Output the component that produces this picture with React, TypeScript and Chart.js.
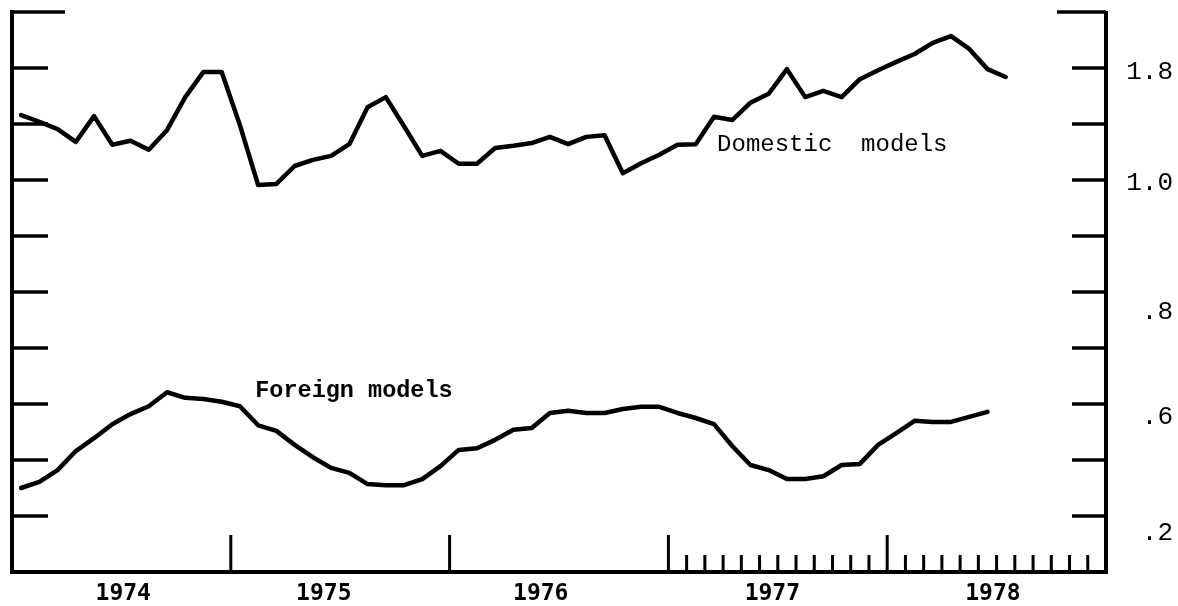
import React, { useEffect, useRef } from "react";
import { Chart, registerables } from "chart.js";

Chart.register(...registerables);

// Monthly index ratios, Jan 1974 = month 0 (plotted at mid-month)
const DOMESTIC = [
  1.116, 1.104, 1.091, 1.068, 1.114, 1.063, 1.07, 1.054, 1.089, 1.148, 1.193, 1.193,
  1.098, 0.991, 0.993, 1.025, 1.036, 1.043, 1.064, 1.13, 1.148, 1.096, 1.043, 1.052,
  1.029, 1.029, 1.057, 1.061, 1.066, 1.077, 1.064, 1.077, 1.08, 1.012, 1.03, 1.045,
  1.063, 1.064, 1.113, 1.107, 1.138, 1.154, 1.198, 1.148, 1.159, 1.148, 1.18, 1.196,
  1.211, 1.225, 1.245, 1.257, 1.234, 1.198, 1.184,
];
const FOREIGN = [
  0.45, 0.461, 0.482, 0.516, 0.539, 0.564, 0.582, 0.596, 0.621, 0.611, 0.609, 0.604,
  0.596, 0.562, 0.552, 0.527, 0.505, 0.486, 0.477, 0.457, 0.455, 0.455, 0.466, 0.489,
  0.518, 0.521, 0.536, 0.554, 0.557, 0.584, 0.588, 0.584, 0.584, 0.591, 0.595, 0.595,
  0.584, 0.575, 0.564, 0.525, 0.491, 0.482, 0.466, 0.466, 0.471, 0.491, 0.493, 0.527,
  0.548, 0.57, 0.568, 0.568, 0.577, 0.586,
];

const X_MIN = 0;
const X_MAX = 60;
const Y_MIN = 0.3;
const Y_MAX = 1.3;

const YEAR_LABELS = ["1974", "1975", "1976", "1977", "1978"];
const YEAR_LABEL_AT = [6.1, 17.1, 29.0, 41.7, 53.8];
const YEAR_TICKS = [12, 24, 36, 48];
const MONTH_TICKS = [37, 38, 39, 40, 41, 42, 43, 44, 45, 46, 47, 49, 50, 51, 52, 53, 54, 55, 56, 57, 58, 59];

const Y_TICKS = [1.3, 1.2, 1.1, 1.0, 0.9, 0.8, 0.7, 0.6, 0.5, 0.4];
const Y_LABELS = ["1.8", "1.0", ".8", ".6", ".2"];
const Y_LABEL_AT = [1.193, 0.995, 0.764, 0.577, 0.37];

const DOMESTIC_NOTE = { text: "Domestic  models", x: 38.67, y: 1.052 };
const FOREIGN_NOTE = { text: "Foreign models", x: 13.34, y: 0.6125 };

const typedAxes = {
  id: "typedAxes",
  afterDraw(chart: any) {
    const { ctx } = chart;
    const x = chart.scales.x;
    const y = chart.scales.y;
    const left = x.getPixelForValue(X_MIN);
    const right = x.getPixelForValue(X_MAX);
    const top = y.getPixelForValue(Y_MAX);
    const bottom = y.getPixelForValue(Y_MIN);
    ctx.save();
    ctx.strokeStyle = "#000";
    ctx.fillStyle = "#000";
    ctx.lineCap = "butt";

    // axis lines
    ctx.lineWidth = 4;
    ctx.beginPath();
    ctx.moveTo(left, top - 2);
    ctx.lineTo(left, bottom + 2);
    ctx.moveTo(right, top - 1);
    ctx.lineTo(right, bottom + 2);
    ctx.moveTo(left - 2, bottom);
    ctx.lineTo(right + 2, bottom);
    ctx.stroke();

    // y ticks, inward on both sides
    ctx.lineWidth = 3.5;
    ctx.beginPath();
    Y_TICKS.forEach((v, i) => {
      const py = y.getPixelForValue(v);
      const lenL = i === 0 ? 53 : 36;
      const lenR = i === 0 ? 49 : 34;
      ctx.moveTo(left, py);
      ctx.lineTo(left + lenL, py);
      ctx.moveTo(right, py);
      ctx.lineTo(right - lenR, py);
    });
    ctx.stroke();

    // x ticks, inward
    ctx.lineWidth = 3;
    ctx.beginPath();
    YEAR_TICKS.forEach((v) => {
      const px = x.getPixelForValue(v);
      ctx.moveTo(px, bottom);
      ctx.lineTo(px, bottom - 37);
    });
    MONTH_TICKS.forEach((v) => {
      const px = x.getPixelForValue(v);
      ctx.moveTo(px, bottom);
      ctx.lineTo(px, bottom - 17);
    });
    ctx.stroke();

    // series notes
    ctx.textAlign = "left";
    ctx.textBaseline = "alphabetic";
    ctx.font = "24px 'Liberation Mono'";
    ctx.fillText(DOMESTIC_NOTE.text, x.getPixelForValue(DOMESTIC_NOTE.x), y.getPixelForValue(DOMESTIC_NOTE.y));
    ctx.font = "bold 23.5px 'Liberation Mono'";
    ctx.fillText(FOREIGN_NOTE.text, x.getPixelForValue(FOREIGN_NOTE.x), y.getPixelForValue(FOREIGN_NOTE.y));
    ctx.restore();
  },
};

export default function App() {
  const ref = useRef<HTMLCanvasElement | null>(null);

  useEffect(() => {
    if (!ref.current) return;
    const lineStyle = {
      borderColor: "#000",
      borderWidth: 4.5,
      pointRadius: 0,
      tension: 0,
      borderCapStyle: "round" as const,
      borderJoinStyle: "round" as const,
      fill: false,
    };
    const chart = new Chart(ref.current, {
      type: "line",
      data: {
        datasets: [
          { label: "Domestic models", data: DOMESTIC.map((v, i) => ({ x: i + 0.5, y: v })), ...lineStyle },
          { label: "Foreign models", data: FOREIGN.map((v, i) => ({ x: i + 0.5, y: v })), ...lineStyle },
        ],
      },
      options: {
        animation: false,
        responsive: false,
        events: [],
        layout: { padding: { left: 12, top: 12, right: 5, bottom: 0 } },
        plugins: { legend: { display: false }, tooltip: { enabled: false } },
        scales: {
          x: {
            type: "linear",
            position: "bottom",
            min: X_MIN,
            max: X_MAX,
            grid: { display: false, drawTicks: false },
            border: { display: false },
            afterBuildTicks: (s: any) => {
              s.ticks = YEAR_LABEL_AT.map((v) => ({ value: v }));
            },
            afterFit: (s: any) => {
              s.height = 34;
              s.paddingLeft = 0;
              s.paddingRight = 0;
            },
            ticks: {
              autoSkip: false,
              maxRotation: 0,
              minRotation: 0,
              padding: 8,
              color: "#000",
              font: { family: "'DejaVu Sans Mono'", size: 23, weight: "bold" },
              callback: (_v: any, i: number) => YEAR_LABELS[i],
            },
          },
          y: {
            type: "linear",
            position: "right",
            min: Y_MIN,
            max: Y_MAX,
            grid: { display: false, drawTicks: false },
            border: { display: false },
            afterBuildTicks: (s: any) => {
              s.ticks = Y_LABEL_AT.map((v) => ({ value: v }));
            },
            afterFit: (s: any) => {
              s.width = 67;
              s.paddingTop = 0;
              s.paddingBottom = 0;
            },
            ticks: {
              autoSkip: false,
              crossAlign: "far",
              padding: 13,
              color: "#000",
              font: { family: "'Liberation Mono'", size: 26 },
              callback: (_v: any, i: number) => Y_LABELS[i],
            },
          },
        },
      },
      plugins: [typedAxes],
    });
    return () => chart.destroy();
  }, []);

  return (
    <div style={{ position: "fixed", left: 0, top: 0, width: 1178, height: 606, background: "#fff" }}>
      <canvas ref={ref} width={1178} height={606} />
    </div>
  );
}
